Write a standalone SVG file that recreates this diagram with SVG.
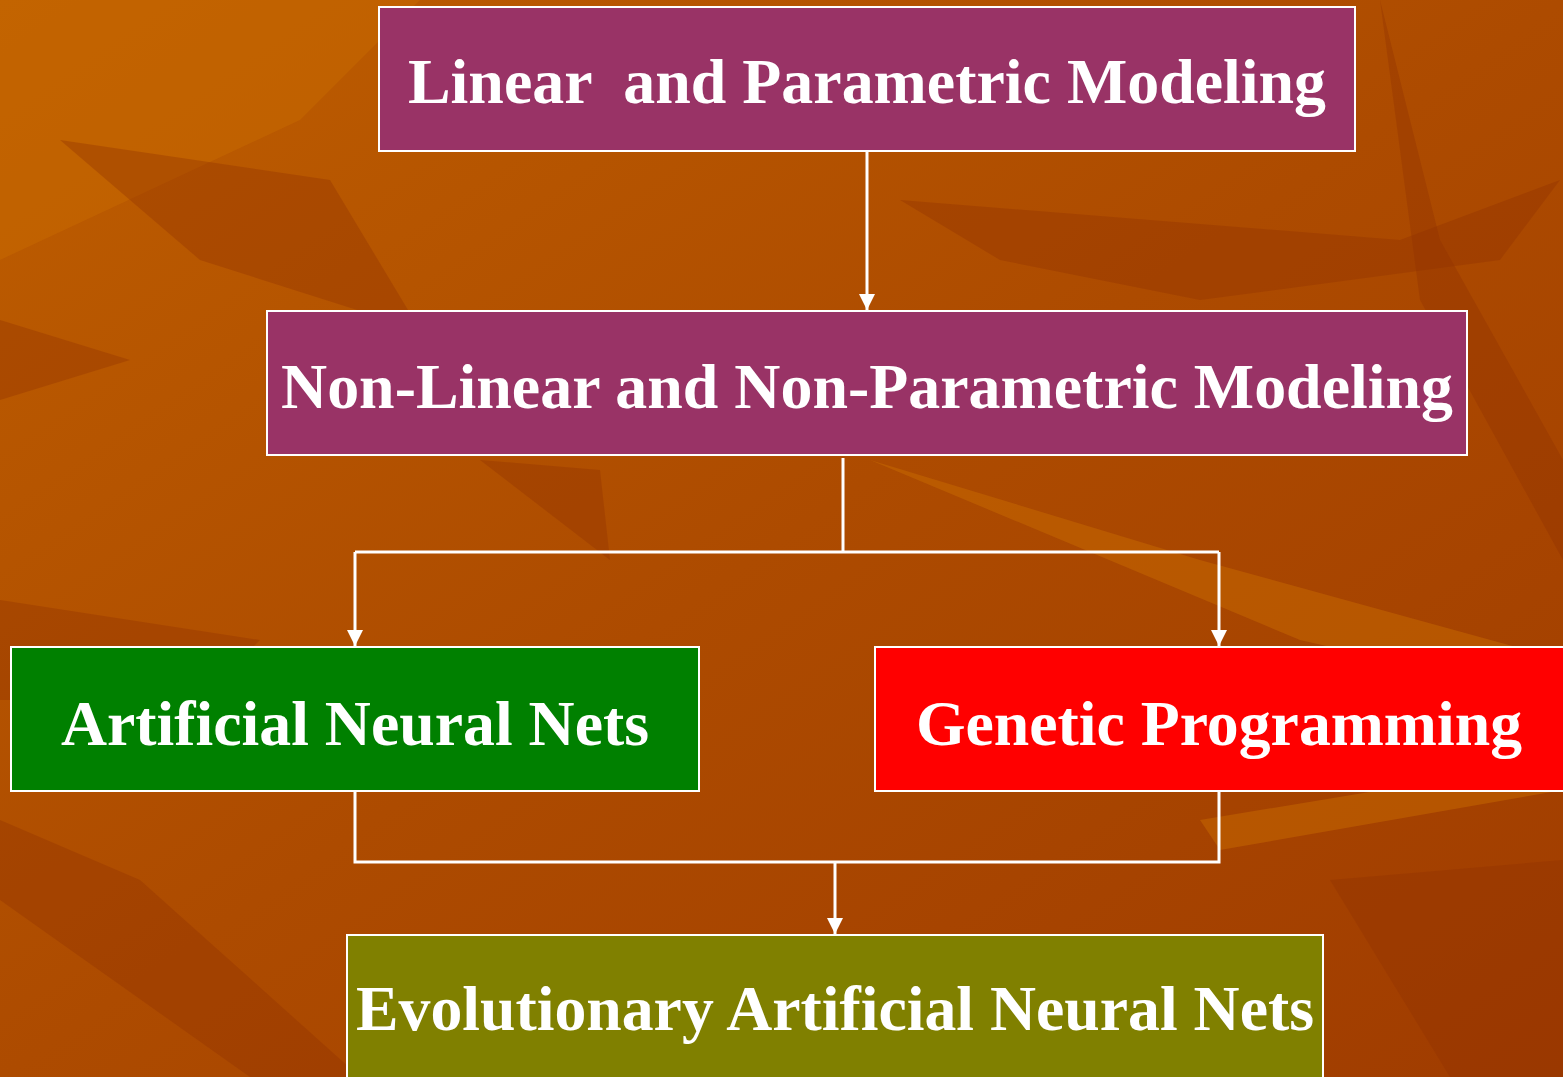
<svg xmlns="http://www.w3.org/2000/svg" width="1563" height="1077" viewBox="0 0 1563 1077">
<defs>
<linearGradient id="bg" x1="0" y1="0" x2="1" y2="1">
<stop offset="0" stop-color="#BE5E00"/>
<stop offset="0.5" stop-color="#AD4B00"/>
<stop offset="1" stop-color="#A03C00"/>
</linearGradient>
<marker id="ah" viewBox="0 0 10 10" refX="10" refY="5" markerWidth="5" markerHeight="5" markerUnits="userSpaceOnUse" orient="auto">
<path d="M0,0 L10,5 L0,10 z" fill="#FFFFFF"/>
</marker>
<marker id="arr" viewBox="0 0 16 16" refX="16" refY="8" markerWidth="16" markerHeight="16" markerUnits="userSpaceOnUse" orient="auto">
<path d="M0,0 L16,8 L0,16 z" fill="#FFFFFF"/>
</marker>
</defs>
<style>
.box{stroke:#FFFFFF;stroke-width:2}
.lbl{font-family:"Liberation Serif","Times New Roman",serif;font-weight:bold;font-size:64px;fill:#FFFFFF;text-anchor:middle}
.con{stroke:#FFFFFF;stroke-width:3;fill:none}
.leaf{fill:#8E3000;opacity:0.35}
.lite{fill:#C86A00;opacity:0.5}
</style>
<rect x="0" y="0" width="1563" height="1077" fill="url(#bg)"/>
<g id="background">
<polygon class="lite" points="0,0 420,0 300,120 0,260"/>
<polygon class="leaf" points="0,320 130,360 0,400"/>
<polygon class="leaf" points="60,140 330,180 420,330 200,260"/>
<polygon class="leaf" points="900,200 1400,240 1560,180 1500,260 1200,300 1000,260"/>
<polygon class="leaf" points="1380,0 1440,240 1563,460 1563,560 1420,300"/>
<polygon class="lite" points="870,460 1300,640 1563,700 1563,660 1200,560"/>
<polygon class="leaf" points="480,460 610,560 600,470"/>
<polygon class="leaf" points="0,820 140,880 360,1077 250,1077 0,900"/>
<polygon class="lite" points="1200,820 1563,760 1563,790 1220,850"/>
<polygon class="leaf" points="1330,880 1563,860 1563,1077 1450,1077"/>
<polygon class="leaf" points="0,600 260,640 200,700 0,700"/>
</g>
<g id="connectors">
<line class="con" x1="867" y1="151" x2="867" y2="310" marker-end="url(#arr)"/>
<polyline class="con" points="843,458 843,552"/>
<polyline class="con" points="355,552 1219,552"/>
<line class="con" x1="355" y1="552" x2="355" y2="646" marker-end="url(#arr)"/>
<line class="con" x1="1219" y1="552" x2="1219" y2="646" marker-end="url(#arr)"/>
<polyline class="con" points="355,791 355,862 1219,862 1219,791"/>
<line class="con" x1="835" y1="862" x2="835" y2="934" marker-end="url(#arr)"/>
</g>
<g id="n1">
<rect class="box" x="379" y="7" width="976" height="144" fill="#993366"/>
<text class="lbl" x="867" y="103" textLength="918" lengthAdjust="spacingAndGlyphs" xml:space="preserve">Linear  and Parametric Modeling</text>
</g>
<g id="n2">
<rect class="box" x="267" y="311" width="1200" height="144" fill="#993366"/>
<text class="lbl" x="867" y="408" textLength="1172" lengthAdjust="spacingAndGlyphs">Non-Linear and Non-Parametric Modeling</text>
</g>
<g id="n3">
<rect class="box" x="11" y="647" width="688" height="144" fill="#008000"/>
<text class="lbl" x="355" y="745" textLength="588" lengthAdjust="spacingAndGlyphs">Artificial Neural Nets</text>
</g>
<g id="n4">
<rect class="box" x="875" y="647" width="700" height="144" fill="#FF0000"/>
<text class="lbl" x="1219" y="745" textLength="606" lengthAdjust="spacingAndGlyphs">Genetic Programming</text>
</g>
<g id="n5">
<rect class="box" x="347" y="935" width="976" height="160" fill="#808000"/>
<text class="lbl" x="835" y="1030" textLength="958" lengthAdjust="spacingAndGlyphs">Evolutionary Artificial Neural Nets</text>
</g>
</svg>
